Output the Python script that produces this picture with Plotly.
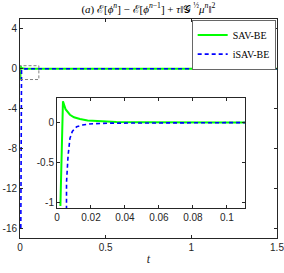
import plotly.graph_objects as go

# data
t_sav = [0.002, 0.0035, 0.005, 0.0076, 0.01, 0.0135, 0.018, 0.025, 0.035, 0.049, 0.07, 0.1, 0.2, 0.5, 1.0, 1.5]
e_sav = [-1.05, 0.27, 0.17, 0.10, 0.068, 0.046, 0.028, 0.016, 0.008, 0.004, 0.002, 0.001, 0.0, 0.0, 0.0, 0.0]
t_isav = [0.0047, 0.0056, 0.0065, 0.0076, 0.009, 0.0116, 0.015, 0.019, 0.03, 0.05, 0.1, 0.2, 0.5, 1.0, 1.5]
e_isav = [-16.0, -0.75, -0.42, -0.2, -0.11, -0.05, -0.03, -0.016, -0.006, -0.002, 0.0, 0.0, 0.0, 0.0, 0.0]

main_xticks = [0, 0.5, 1, 1.5]
main_yticks = [4, 0, -4, -8, -12, -16]
inset_xticks = [0, 0.02, 0.04, 0.06, 0.08, 0.1]
inset_yticks = [0, -0.5, -1]
zoom_box_x = [0, 0.11]
zoom_box_y = [-1.08, 0.31]

GREEN = "#00ff00"
BLUE = "#0000ff"
AX = "#262626"
serif = "Liberation Serif, Times New Roman, serif"
sans = "Liberation Sans, Arial, sans-serif"
DASH = "4px,3px"

fig = go.Figure()
fig.add_trace(go.Scatter(x=t_sav, y=e_sav, mode="lines", name="SAV-BE",
                         line=dict(color=GREEN, width=2), xaxis="x", yaxis="y"))
fig.add_trace(go.Scatter(x=t_isav, y=e_isav, mode="lines", name="iSAV-BE",
                         line=dict(color=BLUE, width=1.6, dash=DASH), xaxis="x", yaxis="y"))
fig.add_trace(go.Scatter(x=t_sav, y=e_sav, mode="lines", showlegend=False,
                         line=dict(color=GREEN, width=2), xaxis="x2", yaxis="y2"))
fig.add_trace(go.Scatter(x=t_isav, y=e_isav, mode="lines", showlegend=False,
                         line=dict(color=BLUE, width=1.6, dash=DASH), xaxis="x2", yaxis="y2"))

fig.add_shape(type="rect", xref="x", yref="y",
              x0=zoom_box_x[0], x1=zoom_box_x[1], y0=zoom_box_y[0], y1=zoom_box_y[1],
              line=dict(color="#808080", width=1, dash="3px,2px"))

common = dict(showgrid=False, zeroline=False, showline=True, linecolor=AX, linewidth=1,
              mirror="ticks", ticks="inside", ticklen=3, tickcolor=AX, tickwidth=0.8,
              automargin=False, ticklabeloverflow="allow",
              tickfont=dict(family=sans, size=10, color=AX))

fig.update_layout(
    width=284, height=273,
    margin=dict(l=20, r=7, t=19, b=35),
    paper_bgcolor="white", plot_bgcolor="white",
    title=dict(text="(<i>a</i>) ℰ[<i>ϕ</i><sup><i>n</i></sup>] − ℰ[<i>ϕ</i><sup><i>n</i>−1</sup>] + <i>τ</i>‖𝒢<sup> ½</sup><i>μ</i><sup><i>n</i></sup>‖<sup>2</sup>",
               x=0.5225, xanchor="center", y=0.968, yanchor="middle",
               font=dict(family=serif, size=11, color="black")),
    xaxis=dict(range=[0, 1.5], tickvals=main_xticks, ticktext=["0", "0.5", "1", "1.5"],
               title=dict(text="<i>t</i>", font=dict(family=serif, size=12, color=AX), standoff=2),
               domain=[0, 1], **common),
    yaxis=dict(range=[-17, 5], tickvals=main_yticks, ticktext=[str(v) for v in main_yticks],
               domain=[0, 1], **common),
    xaxis2=dict(range=[0, 0.1106], tickvals=inset_xticks,
                ticktext=["0", "0.02", "0.04", "0.06", "0.08", "0.1"],
                domain=[0.144, 0.875], anchor="y2", **common),
    yaxis2=dict(range=[-1.075, 0.31], tickvals=inset_yticks, ticktext=["0", "-0.5", "-1"],
                domain=[0.137, 0.639], anchor="x2", **common),
    legend=dict(x=0.996, xanchor="right", y=0.996, yanchor="top",
                bgcolor="white", bordercolor=AX, borderwidth=0.7,
                font=dict(family=serif, size=10, color="black"),
                tracegroupgap=0, itemwidth=30),
    showlegend=True,
)

fig.write_html("out.html", config={"displayModeBar": False},
               post_script="document.body.style.margin='0';document.body.style.padding='0';")
